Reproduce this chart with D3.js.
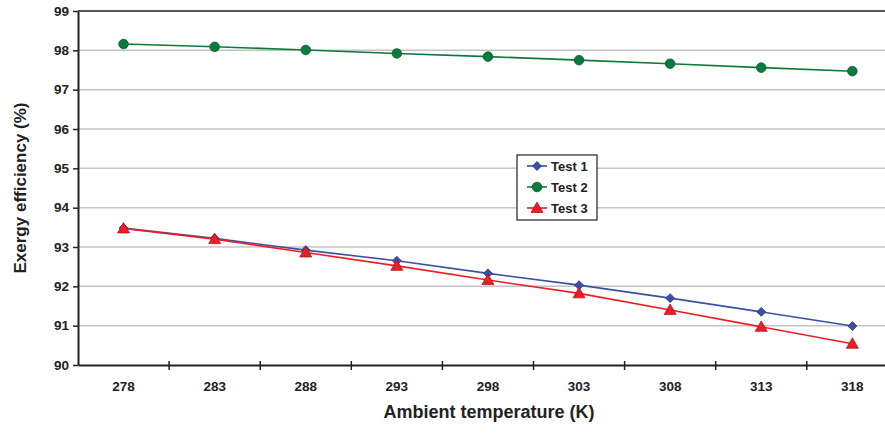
<!DOCTYPE html>
<html>
<head>
<meta charset="utf-8">
<script src="https://cdn.jsdelivr.net/npm/d3@7"></script>
<style>
  body { margin: 0; background: #fff; }
  svg { display: block; font-family: "Liberation Sans", Arial, sans-serif; }
</style>
</head>
<body>
<svg id="chart" width="885" height="434"></svg>
<script>
// Data
const temps = [278, 283, 288, 293, 298, 303, 308, 313, 318];
const test1 = [93.48, 93.22, 92.92, 92.65, 92.33, 92.03, 91.70, 91.35, 90.99];
const test2 = [98.16, 98.09, 98.01, 97.92, 97.84, 97.75, 97.66, 97.56, 97.47];
const test3 = [93.47, 93.20, 92.86, 92.52, 92.16, 91.82, 91.40, 90.97, 90.54];
const yTicks = [90, 91, 92, 93, 94, 95, 96, 97, 98, 99];
const seriesNames = ['Test 1', 'Test 2', 'Test 3'];

const series = [
    {name: seriesNames[0], values: test1, color: '#3b4fa5', marker: 'diamond'},
    {name: seriesNames[1], values: test2, color: '#0b7a3a', marker: 'circle'},
    {name: seriesNames[2], values: test3, color: '#ee1c24', marker: 'triangle'}
];

// Layout
const svg = d3.select('#chart');
const plotLeft = 78, plotTop = 11, plotBottom = 365, step = 91.1;

const x = d3.scaleBand().domain(temps).range([plotLeft, plotLeft + step * temps.length]);
const y = d3.scaleLinear().domain([90, 99]).range([plotBottom, plotTop]);

// Grid
svg.append('g')
    .selectAll('line')
    .data(yTicks.filter(d => d > 90 && d < 99))
    .join('line')
    .attr('x1', plotLeft).attr('x2', 885)
    .attr('y1', d => y(d)).attr('y2', d => y(d))
    .attr('stroke', '#c4c4c4')
    .attr('stroke-width', 1.5);

// top border
svg.append('line')
    .attr('x1', plotLeft).attr('x2', 885)
    .attr('y1', y(99)).attr('y2', y(99))
    .attr('stroke', '#222').attr('stroke-width', 1.5);

// Axes
const gy = svg.append('g')
    .attr('transform', `translate(${plotLeft},0)`)
    .call(d3.axisLeft(y).tickValues(yTicks).tickSize(5).tickSizeOuter(0));
gy.select('.domain').attr('stroke', '#222').attr('stroke-width', 2);
gy.selectAll('.tick line').attr('stroke', '#222').attr('stroke-width', 1.5);
gy.selectAll('.tick text')
    .attr('x', -9)
    .style('font-size', '13.5px').style('font-weight', 'bold').attr('fill', '#222');

const gx = svg.append('g')
    .attr('transform', `translate(0,${plotBottom})`)
    .call(d3.axisBottom(x).tickSize(0).tickPadding(16));
gx.select('.domain').attr('stroke', '#222').attr('stroke-width', 2);
gx.selectAll('.tick text')
    .style('font-size', '13.5px').style('font-weight', 'bold').attr('fill', '#222');

// category separator ticks
svg.append('g')
    .selectAll('line')
    .data(temps.slice(1))
    .join('line')
    .attr('x1', d => x(d)).attr('x2', d => x(d))
    .attr('y1', plotBottom - 4).attr('y2', plotBottom + 5)
    .attr('stroke', '#222').attr('stroke-width', 1.5);

// Axis titles
svg.append('text')
    .attr('transform', `translate(26, ${(plotTop + plotBottom) / 2}) rotate(-90)`)
    .attr('text-anchor', 'middle')
    .style('font-size', '17px').style('font-weight', 'bold')
    .attr('fill', '#222')
    .text('Exergy efficiency (%)');

svg.append('text')
    .attr('x', 489).attr('y', 418)
    .attr('text-anchor', 'middle')
    .style('font-size', '18px').style('font-weight', 'bold')
    .attr('fill', '#222')
    .text('Ambient temperature (K)');

// Markers
const symbolFor = {
    diamond: d3.symbol().type(d3.symbolSquare).size(40),
    circle: d3.symbol().type(d3.symbolCircle).size(72),
    triangle: d3.symbol().type(d3.symbolTriangle).size(62)
};
const markerTransform = (m, px, py) =>
    m === 'diamond' ? `translate(${px},${py}) rotate(45)`
        : m === 'triangle' ? `translate(${px},${py + 1})`
            : `translate(${px},${py})`;
const cx = t => x(t) + x.bandwidth() / 2;

const line = d3.line().x(d => cx(d.t)).y(d => y(d.v));

for (const s of series) {
    const pts = temps.map((t, i) => ({t, v: s.values[i]}));
    svg.append('path')
        .datum(pts)
        .attr('d', line)
        .attr('fill', 'none')
        .attr('stroke', s.color)
        .attr('stroke-width', 1.6);
    svg.append('g')
        .selectAll('path')
        .data(pts)
        .join('path')
        .attr('d', symbolFor[s.marker])
        .attr('transform', d => markerTransform(s.marker, cx(d.t), y(d.v)))
        .attr('fill', s.color)
        .attr('stroke', d3.color(s.color).darker(0.8))
        .attr('stroke-width', 0.8);
}

// Legend
const lg = svg.append('g').attr('transform', 'translate(517,155)');
lg.append('rect')
    .attr('width', 80).attr('height', 65)
    .attr('fill', '#fff').attr('stroke', '#222').attr('stroke-width', 1.2);
series.forEach((s, i) => {
    const row = lg.append('g').attr('transform', `translate(0,${11 + i * 21})`);
    row.append('line')
        .attr('x1', 10).attr('x2', 30)
        .attr('stroke', s.color).attr('stroke-width', 1.6);
    row.append('path')
        .attr('d', symbolFor[s.marker])
        .attr('transform', markerTransform(s.marker, 20, 0))
        .attr('fill', s.color)
        .attr('stroke', d3.color(s.color).darker(0.8))
        .attr('stroke-width', 0.8);
    row.append('text')
        .attr('x', 34).attr('y', 5)
        .style('font-size', '13px').style('font-weight', 'bold')
        .attr('fill', '#222')
        .text(s.name);
});
</script>
</body>
</html>
